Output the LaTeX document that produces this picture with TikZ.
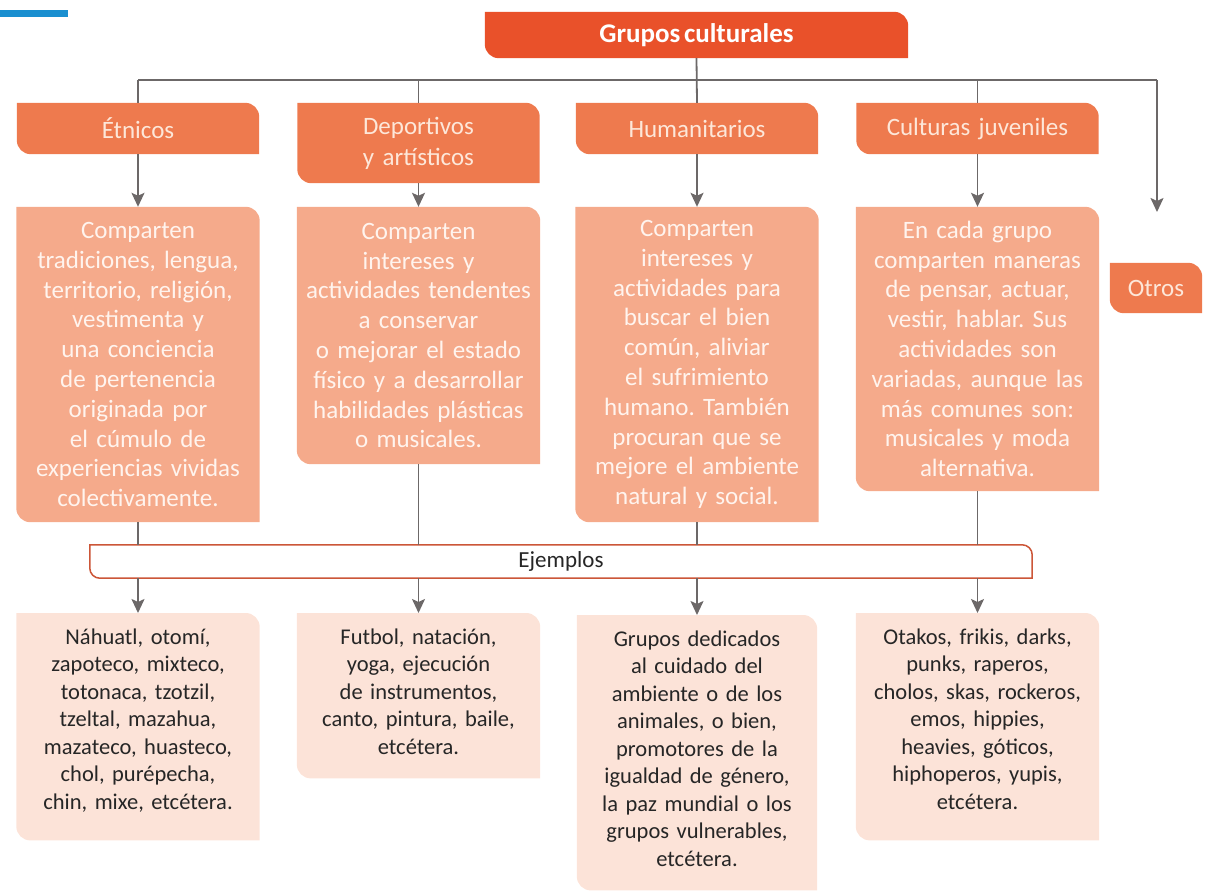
\documentclass[tikz,border=0pt]{standalone}
\usepackage{fontspec}
\setmainfont{Carlito}[WordSpace=0.6]
\usepackage{xcolor}
\usetikzlibrary{arrows.meta,backgrounds}
\frenchspacing

\definecolor{titlered}{HTML}{E9512A}
\definecolor{grouporange}{HTML}{EE7A4E}
\definecolor{descsalmon}{HTML}{F5AA8B}
\definecolor{examplepink}{HTML}{FCE3D8}
\definecolor{linegrey}{HTML}{6C6868}
\definecolor{ejemplosred}{HTML}{CC5638}
\definecolor{barblue}{HTML}{1A8FD0}
\definecolor{paletext}{HTML}{FDE7D9}
\definecolor{desctext}{HTML}{FFF4EE}

% card outline: rounded top right and bottom left corners
\newcommand{\cardpath}[3][14pt]{%
  \path[#3] (#2.north west) -- ([xshift=-#1]#2.north east)
    arc[start angle=90,end angle=0,radius=#1] -- (#2.south east)
    -- ([xshift=#1]#2.south west)
    arc[start angle=270,end angle=180,radius=#1] -- cycle;}

\begin{document}
\begin{tikzpicture}[x=1pt,y=-1pt,
    title/.style={inner sep=0pt, minimum width=423pt, minimum height=46pt,
      font=\fontsize{27pt}{30pt}\selectfont\bfseries, text=white},
    group/.style={inner sep=0pt, minimum width=242pt, text width=230pt, align=center,
      font=\fontsize{25pt}{31pt}\selectfont, text=paletext},
    desc/.style={inner sep=0pt, minimum width=243pt, text width=238pt, align=center,
      font=\fontsize{25pt}{29.8pt}\selectfont, text=desctext},
    example/.style={inner sep=0pt, text width=243pt, align=center, anchor=north,
      font=\fontsize{22.5pt}{27.5pt}\selectfont, text=black!85, text height=31pt},
    link/.style={draw=linegrey, line width=1.8pt},
    arrow/.style={link, -{Stealth[length=14pt,width=13pt,inset=3pt]}}]

  \useasboundingbox (0,0) rectangle (1210,893);
  \fill[barblue] (0,10) rectangle (68,17);

  % top
  \node[title] (root) at (696.5,35) {Grupos culturales};
  \coordinate (spine) at (0,80);
  \coordinate (otrostip) at (1157,212);

  % groups
  \node[group, minimum height=51pt] (etnicos) at (138,128.5) {Étnicos};
  \node[group, minimum height=80pt] (deportivos) at (418.5,143) {Deportivos\\y artísticos};
  \node[group, minimum height=51pt] (humanitarios) at (697,128.5) {Humanitarios};
  \node[group, minimum height=51pt] (juveniles) at (977.5,128.5) {Culturas juveniles};
  \node[group, minimum width=92pt, text width=90pt, minimum height=50pt] (otros) at (1156,288) {Otros};

  % descriptions
  \node[desc, minimum height=315pt] (etnicosdesc) at (138,364.5)
    {Comparten\\tradiciones, lengua,\\territorio, religión,\\vestimenta y\\una conciencia\\de pertenencia\\originada por\\el cúmulo de\\experiencias vividas\\colectivamente.};
  \node[desc, minimum height=257pt] (deportivosdesc) at (418.5,335.5)
    {Comparten\\intereses y\\actividades tendentes\\a conservar\\o mejorar el estado\\físico y a desarrollar\\habilidades plásticas\\o musicales.};
  \node[desc, minimum height=315pt] (humanitariosdesc) at (697,364.5)
    {Comparten\\intereses y\\actividades para\\buscar el bien\\común, aliviar\\el sufrimiento\\humano. También\\procuran que se\\mejore el ambiente\\natural y social.};
  \node[desc, minimum height=284pt] (juvenilesdesc) at (977.5,349)
    {En cada grupo\\comparten maneras\\de pensar, actuar,\\vestir, hablar. Sus\\actividades son\\variadas, aunque las\\más comunes son:\\musicales y moda\\alternativa.};

  \node[inner sep=0pt, minimum width=942pt, minimum height=33pt,
    font=\fontsize{23pt}{26pt}\selectfont, text=black!85] (ejemplos) at (561,561.5) {Ejemplos};

  % examples
  \node[example, text depth=196pt] (etnicosej) at (138,613)
    {Náhuatl, otomí,\\zapoteco, mixteco,\\totonaca, tzotzil,\\tzeltal, mazahua,\\mazateco, huasteco,\\chol, purépecha,\\chin, mixe, etcétera.};
  \node[example, text depth=134pt] (deportivosej) at (418.5,613)
    {Futbol, natación,\\yoga, ejecución\\de instrumentos,\\canto, pintura, baile,\\etcétera.};
  \node[example, text width=240pt, text depth=244pt] (humanitariosej) at (697,615)
    {Grupos dedicados\\al cuidado del\\ambiente o de los\\animales, o bien,\\promotores de la\\igualdad de género,\\la paz mundial o los\\grupos vulnerables,\\etcétera.};
  \node[example, text depth=196pt] (juvenilesej) at (977.5,613)
    {Otakos, frikis, darks,\\punks, raperos,\\cholos, skas, rockeros,\\emos, hippies,\\heavies, góticos,\\hiphoperos, yupis,\\etcétera.};

  \begin{scope}[on background layer]
    \cardpath{root}{fill=titlered}
    \foreach \g in {etnicos,deportivos,humanitarios,juveniles,otros}
      {\cardpath{\g}{fill=grouporange}}
    \foreach \g in {etnicos,deportivos,humanitarios,juveniles}
      {\cardpath{\g desc}{fill=descsalmon}
       \cardpath{\g ej}{fill=examplepink}}
    \cardpath[10pt]{ejemplos}{fill=white, draw=ejemplosred, line width=1.5pt}
  \end{scope}

  % connectors
  \draw[link] (etnicos.north |- spine) -- (otrostip |- spine);
  \draw[link] (root.south) -- (humanitarios.north);
  \foreach \g in {etnicos,deportivos,juveniles}
    \draw[link] (\g.north |- spine) -- (\g.north);
  \draw[arrow] (otrostip |- spine) -- (otrostip);
  \foreach \g in {etnicos,deportivos,humanitarios,juveniles} {
    \draw[arrow] (\g.south) -- (\g desc.north);
    \draw[link] (\g desc.south) -- (\g desc.south |- ejemplos.north);
    \draw[arrow] (\g ej.north |- ejemplos.south) -- (\g ej.north);
  }
\end{tikzpicture}
\end{document}
